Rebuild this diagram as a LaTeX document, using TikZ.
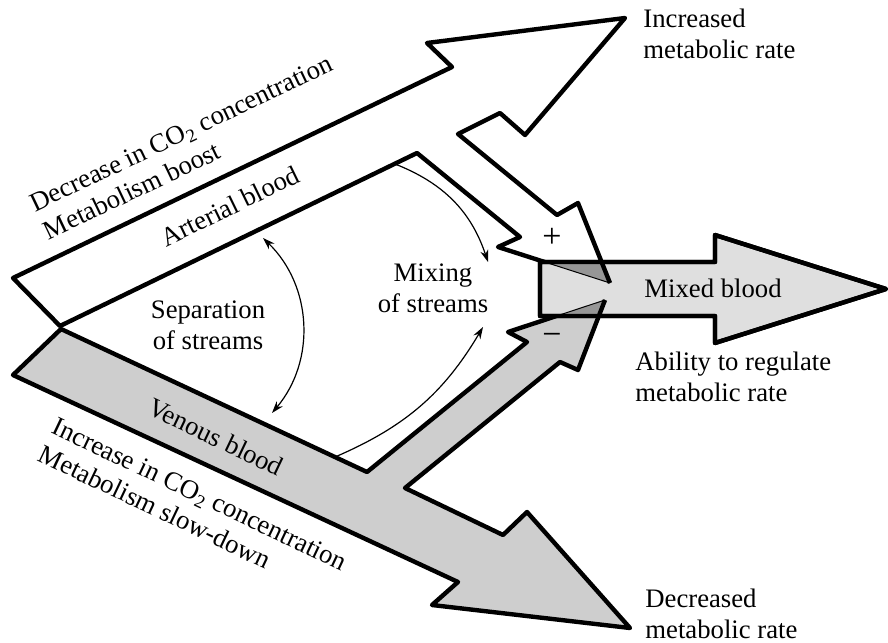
\documentclass[tikz,border=0pt]{standalone}
\usepackage{fontspec}
\setmainfont{Liberation Serif}
\usetikzlibrary{arrows.meta}
\definecolor{venousgray}{RGB}{206,206,206}
\definecolor{mixedgray}{RGB}{223,223,223}
\definecolor{overlapgray}{RGB}{150,150,150}
\tikzset{
	band/.style={draw, line width=2.2pt, line join=round},
	arterial/.style={band, fill=white},
	venous/.style={band, fill=venousgray},
	mixed/.style={band, fill=mixedgray},
	overlap/.style={fill=overlapgray},
	txt/.style={inner sep=0pt, align=left},
	sign/.style={inner sep=0pt, font=\fontsize{17}{20}\selectfont},
	% text running along a band
	slant/.style={inner sep=0pt, align=left, rotate=#1},
}

\begin{document}
\begin{tikzpicture}[x=0.5pt, y=0.5pt, font=\fontsize{13.35}{15.5}\selectfont]
	\useasboundingbox (0,0) rectangle (888,-642);
	
	% arterial stream
	\coordinate (a1) at (13,-278);
	\coordinate (a2) at (452,-67);
	\coordinate (a3) at (427,-43);
	\coordinate (a4) at (625,-18);
	\coordinate (a5) at (525,-135);
	\coordinate (a6) at (500,-113);
	\coordinate (a7) at (458,-134);
	\coordinate (a8) at (557,-215);
	\coordinate (a9) at (578,-203);
	\coordinate (a10) at (610,-283);
	\coordinate (a11) at (498,-247);
	\coordinate (a12) at (520,-237);
	\coordinate (a13) at (417,-153);
	\coordinate (a14) at (60,-326);
	
	% venous stream
	\coordinate (v1) at (13,-375);
	\coordinate (v2) at (61,-329);
	\coordinate (v3) at (367,-472);
	\coordinate (v4) at (527,-342);
	\coordinate (v5) at (508,-332);
	\coordinate (v6) at (605,-300);
	\coordinate (v7) at (578,-370);
	\coordinate (v8) at (560,-362);
	\coordinate (v9) at (405,-488);
	\coordinate (v10) at (503,-535);
	\coordinate (v11) at (527,-512);
	\coordinate (v12) at (630,-628);
	\coordinate (v13) at (432,-605);
	\coordinate (v14) at (458,-582);
	
	% mixed blood
	\coordinate (m1) at (540,-262);
	\coordinate (m2) at (715,-262);
	\coordinate (m3) at (715,-235);
	\coordinate (m4) at (886,-289);
	\coordinate (m5) at (715,-343);
	\coordinate (m6) at (715,-316);
	\coordinate (m7) at (540,-316);
	
	\draw[arterial] (a1) -- (a2) -- (a3) -- (a4) -- (a5) -- (a6) -- (a7) -- (a8) -- (a9) -- (a10) -- (a11) -- (a12) -- (a13) -- (a14) -- cycle;
	\draw[venous] (v1) -- (v2) -- (v3) -- (v4) -- (v5) -- (v6) -- (v7) -- (v8) -- (v9) -- (v10) -- (v11) -- (v12) -- (v13) -- (v14) -- cycle;
	\draw[mixed] (m1) -- (m2) -- (m3) -- (m4) -- (m5) -- (m6) -- (m7) -- cycle;
	
	\begin{scope}
		\clip (m1) -- (m2) -- (m3) -- (m4) -- (m5) -- (m6) -- (m7) -- cycle;
		\fill[overlap] (a9) -- (a10) -- (a11) -- cycle;
		\fill[overlap] (v5) -- (v6) -- (v7) -- cycle;
		\draw[line width=2.2pt] (a9) -- (a10);
		\draw[line width=2.2pt] (v7) -- (v6);
		\draw[line width=0.5pt] (a11) -- (a10);
		\draw[line width=0.5pt] (v5) -- (v6);
	\end{scope}
	\draw[band] (m1) -- (m2) -- (m3) -- (m4) -- (m5) -- (m6) -- (m7) -- cycle;
	
	% labels
	\node (incr) [txt, anchor=north west] at (643,-9) {Increased\\metabolic rate};
	\node (decr) [txt, anchor=north west] at (645,-589) {Decreased\\metabolic rate};
	\node (abil) [txt, anchor=north west] at (635,-352) {Ability to regulate\\metabolic rate};
	\node (mixd) [txt] at (713,-288) {Mixed blood};
	\node (sep) [txt, align=center, anchor=north] at (208,-300) {Separation\\of streams};
	\node (mix) [txt, align=center, anchor=north] at (433,-263) {Mixing\\of streams};
	\node (plus) [sign] at (552,-238) {+};
	\node (minus) [sign] at (552,-339) {−};
	\node (art) [slant=26] at (230,-206) {Arterial blood};
	\node (ven) [slant=-25.5] at (216,-437) {Venous blood};
	\node (dec) [slant=25.5] at (188,-147) {Decrease in CO\textsubscript{2} concentration\\Metabolism boost};
	\node (inc) [slant=-25.4] at (193,-508) {Increase in CO\textsubscript{2} concentration\\Metabolism slow-down};
	
	% ends of the thin arrows
	\coordinate (septop) at (263,-238);
	\coordinate (sepbot) at (272,-413);
	\coordinate (artedge) at (395,-164);
	\coordinate (mixtop) at (488,-262);
	\coordinate (venedge) at (335,-457);
	\coordinate (mixbot) at (483,-327);
	
	\begin{scope}[line width=0.6pt, >={Stealth[length=6pt, width=4pt]}]
		\draw[<->] (septop) to[bend left=43] (sepbot);
		\draw[->] (artedge) to[bend left=25] (mixtop);
		\draw[->] (venedge) to[bend right=18] (mixbot);
	\end{scope}
	
\end{tikzpicture}
\end{document}
